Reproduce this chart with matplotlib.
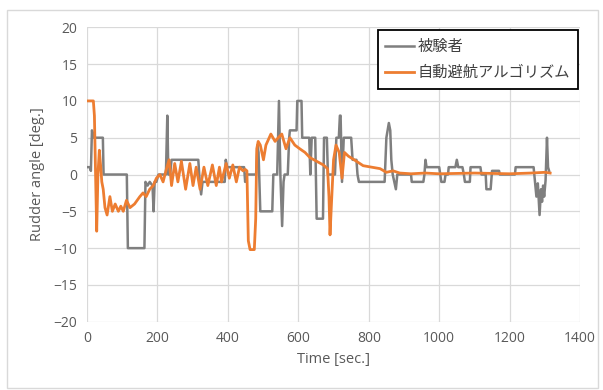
import matplotlib
matplotlib.use("Agg")
import matplotlib.pyplot as plt
from matplotlib.patches import Rectangle

plt.rcParams["font.family"] = ["Open Sans", "Noto Sans CJK JP", "DejaVu Sans"]

# subject (gray) rudder angle
subject_t = [0, 8, 11, 14, 17, 19, 45, 47, 113, 116, 163, 166, 172, 178, 186, 189,
             192, 197, 203, 224, 228, 231, 236, 240, 316, 320, 324, 328, 391, 394,
             398, 446, 449, 452, 480, 484, 487, 492, 526, 529, 540, 545, 549, 554,
             558, 561, 570, 574, 576, 595, 597, 609, 611, 631, 634, 638, 648, 652,
             670, 673, 681, 684, 704, 708, 715, 718, 720, 724, 729, 750, 754, 765,
             768, 772, 845, 850, 857, 861, 864, 868, 877, 881, 920, 922, 955, 958,
             961, 964, 1000, 1003, 1006, 1015, 1018, 1025, 1027, 1046, 1050, 1054,
             1066, 1070, 1073, 1087, 1089, 1117, 1120, 1132, 1134, 1146, 1150, 1170,
             1172, 1215, 1217, 1268, 1272, 1276, 1280, 1285, 1289, 1292, 1295, 1298,
             1302, 1306, 1309, 1312]
subject_deg = [1, 1, 0.5, 6, 5.5, 5, 5, 0, 0, -10, -10, -1, -1.5, -1, -1.5, -5,
               -1, -1, 0, 0, 8, 0, 0, 2, 2, -1, -2.7, -1, -1, 2,
               1, 1, -1, 0, 0, 4, 3, -5, -5, 0, 0, 10, 0, -7,
               -1, 0, 0, 5, 6, 6, 10, 10, 5, 5, 0, 5, 5, -6,
               -6, 5, 5, 0, 0, 5, 5, 8, 8, -1, 5, 5, 2, 2,
               0, -1, -1, 5, 7, 6, 2, 0, -2, 0, 0, -1, -1, 0,
               2, 1, 1, 0, -1, -1, 0, 0, 1, 1, 2, 1,
               1, 0, -1, -1, 1, 1, 0, 0, -2, -2, 0.5, 0.5,
               0, 0, 1, 1, -1, -3, -1.2, -5.5, -2, -3.7, -1.5, -3,
               -0.8, 5, 1, 0.5]

# automatic collision avoidance algorithm (orange)
algo_t = [0, 18, 21, 27.5, 31, 35, 39, 42, 46, 51, 57, 65, 72, 80, 89, 96, 103,
          112, 122, 135, 150, 159, 168, 178, 188, 197, 207, 216, 224, 233, 240,
          249, 258, 268, 280, 292, 301, 310, 321, 332, 343, 356, 367, 376, 382,
          395, 404, 414, 424, 433, 443, 449, 454, 458, 463, 475, 479, 482, 486,
          492, 501, 508, 522, 534, 543, 553, 565, 576, 590, 604, 619, 633, 652,
          671, 683, 687, 690, 694, 700, 707, 716, 724, 731, 742, 765, 784, 808,
          832, 850, 869, 888, 920, 960, 1000, 1100, 1200, 1260, 1300, 1315]
algo_deg = [10, 10, 8, -7.7, 0, 3.3, 1, -1, -2, -4.5, -5.5, -3, -5, -4, -5, -4.3, -5,
            -3.5, -4.5, -4, -3, -2.5, -3, -2, -1.5, -0.5, 0, -1, 0.5, 2, -1.5,
            1.5, -1, 1.8, -2, 1.5, -1.5, 1, -2, 1, -1.5, 1.3, -1.5, 1, -1,
            1.5, -0.5, 1.3, -1, 1, 0.5, 0.7, 0.5, -9, -10.2, -10.2, -6, 3.5, 4.5,
            4, 2, 4, 5.5, 4.5, 5, 5.5, 3.5, 5, 4, 3.5, 3, 2.3, 1.8,
            1.3, 0.8, -3, -8.2, -4, 2, 4, 3, -0.5, 3, 2.5, 1.8, 1.2, 1,
            0.8, 0.3, 0.5, 0.2, 0.1, 0.2, 0.1, 0.2, 0.1, 0.2, 0.3, 0.2]

x_ticks = [0, 200, 400, 600, 800, 1000, 1200, 1400]
y_ticks = [-20, -15, -10, -5, 0, 5, 10, 15, 20]

text_color = "#595959"
grid_color = "#D9D9D9"

fig = plt.figure(figsize=(6.03, 3.90), dpi=100)
ax = fig.add_axes([0.1443, 0.175, 0.8177, 0.755])

ax.plot(subject_t, subject_deg, color="#7F7F7F", linewidth=1.8, label="被験者", zorder=3)
ax.plot(algo_t, algo_deg, color="#ED7D31", linewidth=2.0, label="自動避航アルゴリズム", zorder=4)

ax.set_xlim(0, 1400)
ax.set_ylim(-20, 20)
ax.set_xticks(x_ticks)
ax.set_yticks(y_ticks)
ax.grid(True, color=grid_color, linewidth=0.9)
ax.set_axisbelow(True)
for s in ax.spines.values():
    s.set_visible(False)
ax.tick_params(length=0, labelsize=10, labelcolor=text_color, pad=7)

ax.set_xlabel("Time [sec.]", fontsize=10.5, color=text_color, labelpad=4)
ax.set_ylabel("Rudder angle [deg.]", fontsize=10.5, color=text_color, labelpad=6)

leg = ax.legend(loc="upper right", bbox_to_anchor=(0.995, 0.99), borderaxespad=0,
                fancybox=False, frameon=True, handlelength=1.9, handletextpad=0.2,
                labelspacing=0.6, borderpad=0.5,
                prop={"family": ["Noto Sans CJK JP", "DejaVu Sans"], "size": 11})
leg.get_frame().set_edgecolor("black")
leg.get_frame().set_linewidth(1.3)
leg.get_frame().set_alpha(1)
for t in leg.get_texts():
    t.set_color("#404040")

# light chart border
fig.patches.append(Rectangle((7 / 603, 2 / 390), 591 / 603, 378 / 390, transform=fig.transFigure,
                             fill=False, edgecolor=grid_color, linewidth=1))

fig.savefig("out.png", dpi=100)
